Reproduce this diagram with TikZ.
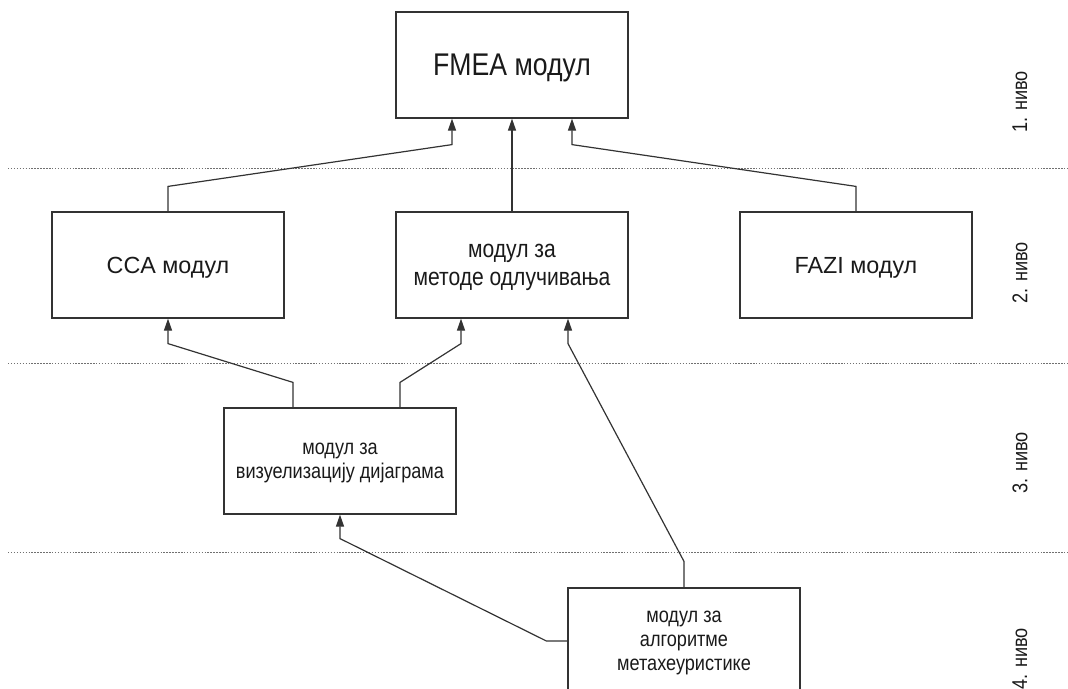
\documentclass[tikz,border=0pt]{standalone}
\usepackage{fontspec}
\setmainfont{Liberation Sans}
\newfontfamily\condsans{Liberation Sans}[FakeStretch=0.85]
\usetikzlibrary{arrows.meta,calc}
\definecolor{ink}{HTML}{1A1A1A}
\definecolor{edge}{HTML}{333333}
\definecolor{sep}{HTML}{707070}
\begin{document}
\begin{tikzpicture}[x=0.75pt,y=-0.75pt,
  modbox/.style={draw=edge,line width=0.9pt,fill=white,inner sep=0pt,
    minimum width=174pt,minimum height=79.5pt,align=center,text=ink,
    text depth=0pt},
  fmeatext/.style={font=\condsans\fontsize{23.5}{28}\selectfont},
  wide/.style={font=\fontsize{17.5}{21}\selectfont},
  twoline/.style={font=\condsans\fontsize{18.6}{21}\selectfont},
  small/.style={font=\condsans\fontsize{16}{18}\selectfont},
  conn/.style={draw=edge,line width=0.9pt,-{Triangle[length=9pt,width=6pt]}},
  levelsep/.style={draw=sep,line width=0.75pt,dash pattern=on 1.1pt off 1.1pt},
  levellabel/.style={rotate=90,text=ink,font=\condsans\fontsize{16}{19}\selectfont}]
\useasboundingbox (0,0) rectangle (1068,689);
\clip (0,0) rectangle (1068,689);

% level separators
\draw[levelsep] (8,168) -- (1068,168);
\draw[levelsep] (8,363) -- (1068,363);
\draw[levelsep] (8,552) -- (1068,552);

% level labels
\node[levellabel] (l1) at (1020,102) {1. ниво};
\node[levellabel] (l2) at (1020,273) {2. ниво};
\node[levellabel] (l3) at (1020,463) {3. ниво};
\node[levellabel] (l4) at (1020,659) {4. ниво};

% modules
\node[modbox,fmeatext] (fmea) at (512,65) {FMEA модул};
\node[modbox,wide] (cca) at (168,265) {CCA модул};
\node[modbox,twoline] (dec) at (512,265) {модул за\\методе одлучивања};
\node[modbox,wide] (fazi) at (856,265) {FAZI модул};
\node[modbox,small] (viz) at (340,461) {модул за\\визуелизацију дијаграма};
\node[modbox,small] (meta) at (684,641) {модул за\\алгоритме\\метахеуристике};

% connectors
\draw[conn] (cca.north) -- ++(0,-25) -- ($(fmea.south)+(-60,26)$) -- ($(fmea.south)+(-60,0)$);
\draw[conn] (dec.north) -- (fmea.south);
\draw[conn] (fazi.north) -- ++(0,-25) -- ($(fmea.south)+(60,26)$) -- ($(fmea.south)+(60,0)$);
\draw[conn] ($(viz.north)+(-47,0)$) -- ++(0,-25) -- ($(cca.south)+(0,25)$) -- (cca.south);
\draw[conn] ($(viz.north)+(60,0)$) -- ++(0,-25) -- ($(dec.south)+(-51,25)$) -- ($(dec.south)+(-51,0)$);
\draw[conn] (meta.north) -- ++(0,-26) -- ($(dec.south)+(56,25)$) -- ($(dec.south)+(56,0)$);
\draw[conn] (meta.west) -- ++(-21,0) -- ($(viz.south)+(0,24)$) -- (viz.south);
\end{tikzpicture}
\end{document}
